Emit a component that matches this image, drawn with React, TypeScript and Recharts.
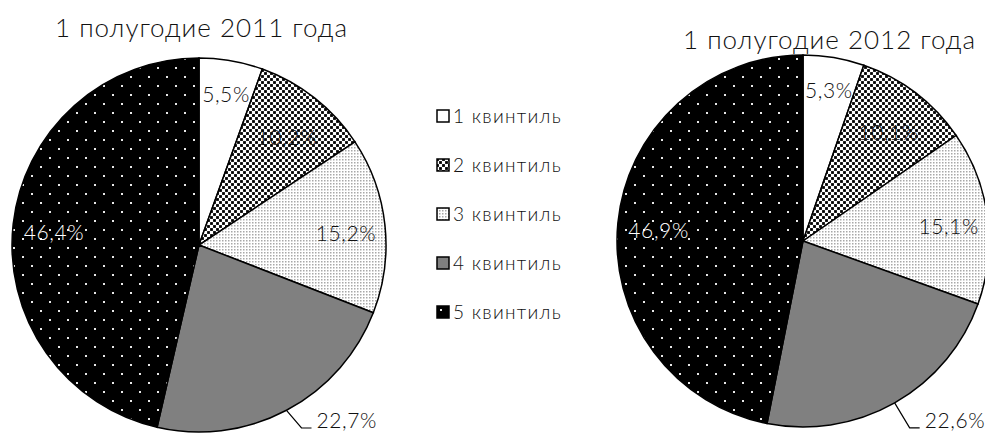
import React from 'react';
import { PieChart, Pie, Cell, Legend } from 'recharts';

const quintiles = ['1 квинтиль', '2 квинтиль', '3 квинтиль', '4 квинтиль', '5 квинтиль'];
const values2011 = [5.5, 10.2, 15.2, 22.7, 46.4];
const values2012 = [5.3, 10.1, 15.1, 22.6, 46.9];
const titles = ['1 полугодие 2011 года', '1 полугодие 2012 года'];

const fills = ['#ffffff', 'url(#pat2)', 'url(#pat3)', '#808080', 'url(#pat5)'];
const labelColors = ['#111', '#111', '#111', '#111', '#ffffff'];
// radius factor for the inside labels (index 3 is drawn outside)
const labelRadius = [0.84, 0.76, 0.79, 1, 0.78];

const FONT = 'Lato, "DejaVu Sans", sans-serif';
const RADIAN = Math.PI / 180;

const fmt = (v: number) => `${v.toFixed(1).replace('.', ',')}%`;

const renderLabel = (props: any) => {
  const { cx, cy, midAngle, outerRadius, index, value } = props;
  const cos = Math.cos(-midAngle * RADIAN);
  const sin = Math.sin(-midAngle * RADIAN);
  if (index === 3) {
    const sx = cx + outerRadius * cos;
    const sy = cy + outerRadius * sin;
    const ex = sx + 15;
    const ey = Math.min(sy + 25, 428);
    return (
      <g>
        <polyline points={`${sx},${sy} ${ex},${ey} ${ex + 10},${ey}`} fill="none" stroke="#000" strokeWidth={1.2} />
        <text x={ex + 15} y={ey} fill="#111" fontSize={21} fontFamily={FONT} fontWeight={300} letterSpacing={0.6} textAnchor="start">
          {fmt(value)}
        </text>
      </g>
    );
  }
  const r = outerRadius * labelRadius[index];
  return (
    <text
      x={cx + r * cos}
      y={cy + r * sin + 3}
      fill={labelColors[index]}
      fontSize={21}
      fontFamily={FONT}
      fontWeight={300}
      letterSpacing={0.6}
      textAnchor="middle"
      dominantBaseline="central"
    >
      {fmt(value)}
    </text>
  );
};

const LegendBox = () => (
  <div style={{ fontFamily: FONT, fontWeight: 300, fontSize: 19, letterSpacing: 1.3, color: '#111' }}>
    {quintiles.map((q, i) => (
      <div key={q} style={{ display: 'flex', alignItems: 'center', height: 49 }}>
        <svg width={14} height={14} style={{ marginRight: 3 }}>
          <rect x={1} y={1} width={12} height={12} fill={fills[i]} stroke="#000" strokeWidth={1.5} />
        </svg>
        <span>{q}</span>
      </div>
    ))}
  </div>
);

const titleStyle: React.CSSProperties = {
  position: 'absolute',
  fontFamily: FONT,
  fontWeight: 300,
  fontSize: 26,
  letterSpacing: 1,
  color: '#111',
  whiteSpace: 'nowrap',
};

export default function App() {
  const data2011 = quintiles.map((name, i) => ({ name, value: values2011[i] }));
  const data2012 = quintiles.map((name, i) => ({ name, value: values2012[i] }));

  return (
    <div style={{ position: 'fixed', left: 0, top: 0, width: 985, height: 433, overflow: 'hidden', background: '#fff' }}>
      <div style={{ ...titleStyle, left: 55, top: 11 }}>{titles[0]}</div>
      <div style={{ ...titleStyle, left: 683, top: 23 }}>{titles[1]}</div>
      <PieChart width={985} height={433} margin={{ top: 0, right: 0, bottom: 0, left: 0 }}>
        <defs>
          <pattern id="pat2" width={6} height={6} patternUnits="userSpaceOnUse">
            <rect width={6} height={6} fill="#fff" />
            <rect x={0.1} y={0.1} width={2.8} height={2.8} fill="#000" />
            <rect x={3.1} y={3.1} width={2.8} height={2.8} fill="#000" />
          </pattern>
          <pattern id="pat3" width={3} height={3} patternUnits="userSpaceOnUse">
            <rect width={3} height={3} fill="#fff" />
            <rect x={0} y={0} width={1.5} height={1.5} fill="#a8a8a8" />
          </pattern>
          <pattern id="pat5" width={18} height={18} patternUnits="userSpaceOnUse">
            <rect width={18} height={18} fill="#000" />
            <rect x={4} y={4} width={2} height={2} fill="#e8e8e8" />
            <rect x={13} y={13} width={2} height={2} fill="#e8e8e8" />
          </pattern>
        </defs>
        <Pie
          data={data2011}
          dataKey="value"
          cx={199}
          cy={245}
          outerRadius={187}
          startAngle={90}
          endAngle={-270}
          stroke="#000"
          strokeWidth={1.5}
          label={renderLabel}
          labelLine={false}
          isAnimationActive={false}
        >
          {data2011.map((d, i) => (
            <Cell key={d.name} fill={fills[i]} />
          ))}
        </Pie>
        <Pie
          data={data2012}
          dataKey="value"
          cx={803}
          cy={241}
          outerRadius={186}
          startAngle={90}
          endAngle={-270}
          stroke="#000"
          strokeWidth={1.5}
          label={renderLabel}
          labelLine={false}
          isAnimationActive={false}
        >
          {data2012.map((d, i) => (
            <Cell key={d.name} fill={fills[i]} />
          ))}
        </Pie>
        <Legend
          content={() => <LegendBox />}
          wrapperStyle={{ position: 'absolute', left: 436, top: 91, width: 170 }}
        />
      </PieChart>
    </div>
  );
}
